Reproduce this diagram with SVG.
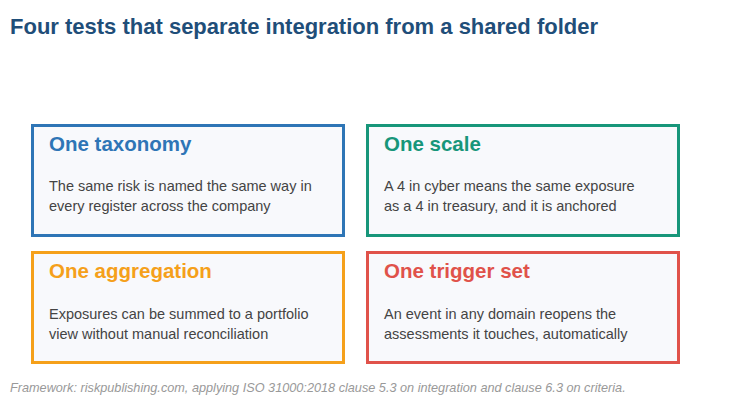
<svg xmlns="http://www.w3.org/2000/svg" width="743" height="400" viewBox="0 0 743 400">
<style>
.box{fill:#f8f9fc;stroke-width:3}
.h{font-family:"Liberation Sans",Arial,sans-serif;font-weight:bold;font-size:20.5px}
.b{font-family:"Liberation Sans",Arial,sans-serif;font-size:14.5px;fill:#444}
</style>
<rect width="743" height="400" fill="#fff"/>
<text x="10" y="34" font-family="Liberation Sans,Arial,sans-serif" font-weight="bold" font-size="22" fill="#1f4e79">Four tests that separate integration from a shared folder</text>
<g id="n1"><rect class="box" x="32.5" y="125.5" width="311" height="110" stroke="#2e75b6"/>
<text class="h" x="49" y="151" fill="#2e75b6">One taxonomy</text>
<text class="b" x="49" y="191">The same risk is named the same way in</text>
<text class="b" x="49" y="211">every register across the company</text></g>
<g id="n2"><rect class="box" x="367.5" y="125.5" width="311" height="110" stroke="#17967a"/>
<text class="h" x="384" y="151" fill="#17967a">One scale</text>
<text class="b" x="384" y="191">A 4 in cyber means the same exposure</text>
<text class="b" x="384" y="211">as a 4 in treasury, and it is anchored</text></g>
<g id="n3"><rect class="box" x="32.5" y="252.5" width="311" height="110" stroke="#f5a01a"/>
<text class="h" x="49" y="278" fill="#f5a01a">One aggregation</text>
<text class="b" x="49" y="319">Exposures can be summed to a portfolio</text>
<text class="b" x="49" y="339">view without manual reconciliation</text></g>
<g id="n4"><rect class="box" x="367.5" y="252.5" width="311" height="110" stroke="#e0524a"/>
<text class="h" x="384" y="278" fill="#e0524a">One trigger set</text>
<text class="b" x="384" y="319">An event in any domain reopens the</text>
<text class="b" x="384" y="339">assessments it touches, automatically</text></g>
<g id="connectors"/>
<text x="10" y="392" font-family="Liberation Sans,Arial,sans-serif" font-style="italic" font-size="12.7" fill="#999">Framework: riskpublishing.com, applying ISO 31000:2018 clause 5.3 on integration and clause 6.3 on criteria.</text>
</svg>
